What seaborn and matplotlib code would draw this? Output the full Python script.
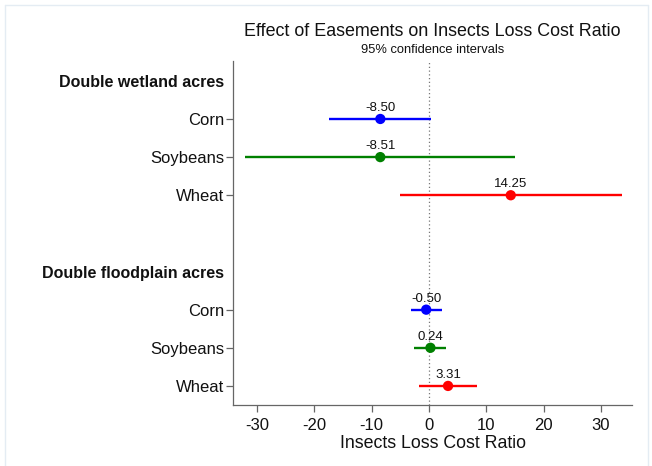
import matplotlib
matplotlib.use("Agg")
import matplotlib.pyplot as plt
import seaborn as sns
import pandas as pd
from matplotlib.lines import Line2D

sns.set_style("white")
plt.rcParams['font.family'] = ['Liberation Sans', 'DejaVu Sans']

# ---- data ----
groups = ["Double wetland acres", "Double floodplain acres"]
crops = ["Corn", "Soybeans", "Wheat"]
wetland_est = [-8.50, -8.51, 14.25]
wetland_lo = [-17.4, -32.06, -5.15]
wetland_hi = [0.4, 15.04, 33.65]
flood_est = [-0.50, 0.24, 3.31]
flood_lo = [-3.2, -2.56, -1.74]
flood_hi = [2.2, 3.04, 8.36]
xticks = [-30, -20, -10, 0, 10, 20, 30]
crop_colors = {"Corn": "#0000ff", "Soybeans": "#008000", "Wheat": "#ff0000"}

rows = []
pos = 0
labels = {}
header_pos = []
for g, est, lo, hi in [(groups[0], wetland_est, wetland_lo, wetland_hi),
                       (groups[1], flood_est, flood_lo, flood_hi)]:
    header_pos.append(pos)
    labels[pos] = g
    pos += 1
    for c, e, l, h in zip(crops, est, lo, hi):
        rows.append(dict(group=g, crop=c, est=e, lo=l, hi=h, y=pos))
        labels[pos] = c
        pos += 1
    pos += 1
df = pd.DataFrame(rows)

W, H = 652, 466
fig = plt.figure(figsize=(W / 100, H / 100), dpi=100)
ax = fig.add_axes([233 / W, 1 - 405 / H, (632 - 233) / W, (405 - 61) / H])

ax.axvline(0, color="#777777", lw=0.9, ls=(0, (1, 2)), zorder=1)
for _, r in df.iterrows():
    ax.hlines(r.y, r.lo, r.hi, color=crop_colors[r.crop], lw=1.7, zorder=2)
sns.scatterplot(data=df, x="est", y="y", hue="crop", palette=crop_colors,
                s=55, edgecolor="none", legend=False, ax=ax, zorder=3)
for _, r in df.iterrows():
    ax.annotate(f"{r.est:.2f}", (r.est, r.y), xytext=(0, 3.5), textcoords="offset points",
                ha="center", va="bottom", fontsize=9.5, color="#111111")

ax.set_xlim(-34.2, 35.4)
ax.set_ylim(8.5, -0.52)
ax.set_xticks(xticks)
ax.set_xticklabels([str(t) for t in xticks], fontsize=12, color="#111111")
ypos = sorted(labels)
ax.set_yticks(ypos)
ax.set_yticklabels([labels[p] for p in ypos], fontsize=12, color="#111111")
ax.tick_params(axis="both", length=5, width=0.9, color="#666666", left=True, bottom=True)
ax.tick_params(axis="y", pad=1.5)
ax.tick_params(axis="x", pad=4.5)
for t, p in zip(ax.yaxis.get_major_ticks(), ypos):
    if p in header_pos:
        t.tick1line.set_visible(False)
        t.label1.set_fontweight("bold")
        t.label1.set_fontsize(11.5)
ax.set_xlabel("Insects Loss Cost Ratio", fontsize=12.8, color="#111111", labelpad=1)
ax.set_ylabel("")
for s in ["top", "right"]:
    ax.spines[s].set_visible(False)
for s in ["left", "bottom"]:
    ax.spines[s].set_color("#666666")
    ax.spines[s].set_linewidth(0.9)

cx = (233 + 632) / 2 / W
fig.text(cx, 1 - 31 / H, "Effect of Easements on Insects Loss Cost Ratio",
         ha="center", va="center", fontsize=12.9, color="#111111")
fig.text(cx, 1 - 50 / H, "95% confidence intervals", ha="center", va="center",
         fontsize=9.3, color="#111111")

bc = "#e4ecf3"
fig.add_artist(Line2D([4.5 / W, 4.5 / W], [0, 1 - 4.5 / H], color=bc, lw=1, transform=fig.transFigure))
fig.add_artist(Line2D([4.5 / W, 647.5 / W], [1 - 4.5 / H, 1 - 4.5 / H], color=bc, lw=1, transform=fig.transFigure))
fig.add_artist(Line2D([647.5 / W, 647.5 / W], [0, 1 - 4.5 / H], color=bc, lw=1, transform=fig.transFigure))

fig.savefig("out.png", dpi=100)
